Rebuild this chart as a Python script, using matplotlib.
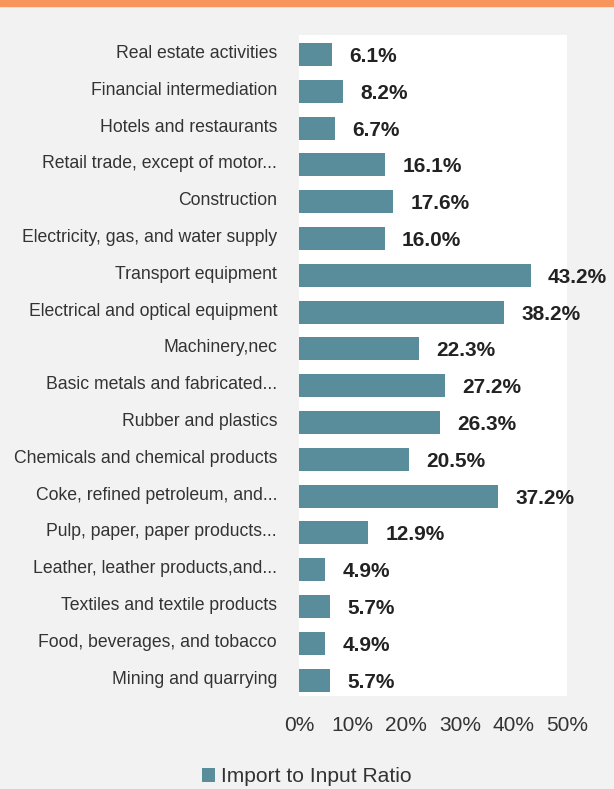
import matplotlib
matplotlib.use("Agg")
import matplotlib.pyplot as plt
from matplotlib.patches import Rectangle
from matplotlib.transforms import ScaledTranslation

plt.rcParams["font.family"] = ["Liberation Sans", "DejaVu Sans"]

categories = [
    "Real estate activities",
    "Financial intermediation",
    "Hotels and restaurants",
    "Retail trade, except of motor...",
    "Construction",
    "Electricity, gas, and water supply",
    "Transport equipment",
    "Electrical and optical equipment",
    "Machinery,nec",
    "Basic metals and fabricated...",
    "Rubber and plastics",
    "Chemicals and chemical products",
    "Coke, refined petroleum, and...",
    "Pulp, paper, paper products...",
    "Leather, leather products,and...",
    "Textiles and textile products",
    "Food, beverages, and tobacco",
    "Mining and quarrying",
]
ratios = [6.1, 8.2, 6.7, 16.1, 17.6, 16.0, 43.2, 38.2, 22.3, 27.2,
          26.3, 20.5, 37.2, 12.9, 4.9, 5.7, 4.9, 5.7]
x_ticks = [0, 10, 20, 30, 40, 50]
series_name = "Import to Input Ratio"

bar_color = "#5A8D9B"
bg = "#F2F2F2"

fig = plt.figure(figsize=(6.14, 7.89), dpi=100, facecolor=bg)
ax = fig.add_axes([299 / 614, 1 - 695.5 / 789, 268 / 614, 660.5 / 789])
ax.set_facecolor("white")

ypos = list(range(len(categories)))
bars = ax.barh(ypos, ratios, height=0.625, color=bar_color, label=series_name)

for y, v in zip(ypos, ratios):
    ax.annotate(f"{v:.1f}%", xy=(v, y), xytext=(12.5, -1.5), textcoords="offset points",
                va="center", ha="left", fontsize=15, fontweight="bold", color="#222222")

ax.set_ylim(len(categories) - 1 + 0.42, -0.53)
ax.set_xlim(0, 50)
ax.set_yticks(ypos)
ax.set_yticklabels(categories, fontsize=12.7, color="#333333")
ax.set_xticks(x_ticks)
ax.set_xticklabels([f"{t}%" for t in x_ticks], fontsize=15, color="#333333")
ax.tick_params(axis="y", length=0, pad=15.8)
ax.tick_params(axis="x", length=0, pad=14.5)
for s in ax.spines.values():
    s.set_visible(False)

# category labels sit a little above the bar centres
lift = ScaledTranslation(0, 3 / 100, fig.dpi_scale_trans)
for lbl in ax.get_yticklabels():
    lbl.set_transform(lbl.get_transform() + lift)

# orange strip along the top edge
fig.patches.append(Rectangle((0, 1 - 6 / 789), 1, 6 / 789, transform=fig.transFigure,
                             color="#F8955B", zorder=5))

fig.legend(handles=[bars], labels=[series_name], loc="center", bbox_to_anchor=(0.5, 1 - 777 / 789),
           frameon=False, fontsize=15.1, handlelength=0.6, handleheight=0.6, handletextpad=0.3,
           labelcolor="#333333")

fig.savefig("out.png", dpi=100, facecolor=bg)
